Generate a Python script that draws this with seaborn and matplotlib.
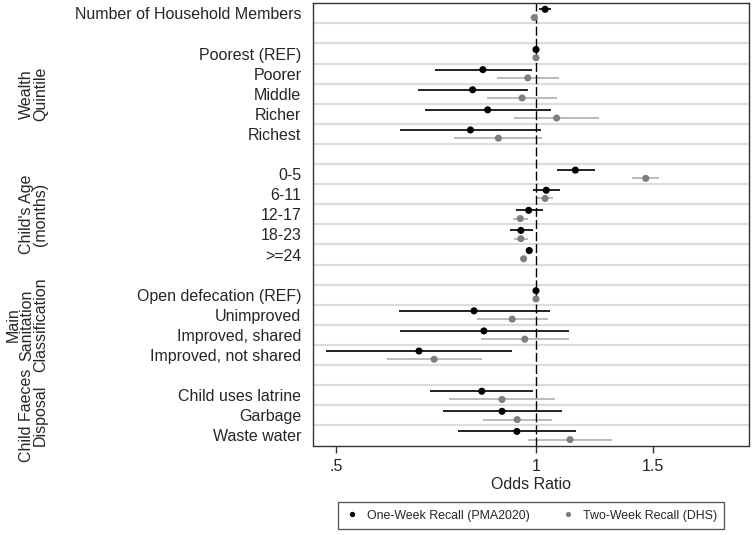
import numpy as np
import pandas as pd
import matplotlib
matplotlib.use("Agg")
import matplotlib.pyplot as plt
import seaborn as sns
from matplotlib import transforms
from matplotlib.ticker import FixedLocator, NullLocator, FixedFormatter

nan = np.nan

# ---- data -------------------------------------------------------------
categories = ["Number of Household Members", "",
              "Poorest (REF)", "Poorer", "Middle", "Richer", "Richest", "",
              "0-5", "6-11", "12-17", "18-23", ">=24", "",
              "Open defecation (REF)", "Unimproved", "Improved, shared",
              "Improved, not shared", "",
              "Child uses latrine", "Garbage", "Waste water"]

pma_or = [1.032, nan, 1.000, 0.832, 0.803, 0.846, 0.797, nan,
          1.146, 1.036, 0.975, 0.949, 0.977, nan,
          1.000, 0.807, 0.835, 0.667, nan, 0.829, 0.889, 0.936]
pma_lo = [1.011, nan, 1.000, 0.705, 0.665, 0.680, 0.625, nan,
          1.074, 0.989, 0.932, 0.913, 0.972, nan,
          1.000, 0.622, 0.624, 0.484, nan, 0.693, 0.724, 0.764]
pma_hi = [1.052, nan, 1.000, 0.985, 0.974, 1.052, 1.016, nan,
          1.227, 1.085, 1.023, 0.989, 0.983, nan,
          1.000, 1.051, 1.121, 0.919, nan, 0.990, 1.095, 1.148]

dhs_or = [0.994, nan, 1.000, 0.972, 0.953, 1.074, 0.878, nan,
          1.462, 1.032, 0.947, 0.949, 0.958, nan,
          1.000, 0.921, 0.962, 0.703, nan, 0.889, 0.937, 1.125]
dhs_lo = [0.989, nan, 1.000, 0.875, 0.843, 0.928, 0.754, nan,
          1.396, 1.005, 0.924, 0.928, 0.953, nan,
          1.000, 0.815, 0.827, 0.597, nan, 0.741, 0.832, 0.972]
dhs_hi = [0.999, nan, 1.000, 1.082, 1.077, 1.245, 1.022, nan,
          1.530, 1.059, 0.974, 0.974, 0.963, nan,
          1.000, 1.044, 1.120, 0.831, nan, 1.069, 1.057, 1.299]

series_names = ["One-Week Recall (PMA2020)", "Two-Week Recall (DHS)"]

group_titles = ["Wealth\nQuintile", "Child's Age\n(months)",
                "Main\nSanitation\nClassification", "Child Faeces\nDisposal"]
group_first = ["Poorest (REF)", "0-5", "Open defecation (REF)", "Child uses latrine"]
group_last = ["Richest", ">=24", "Improved, not shared", "Waste water"]

x_ticks = [0.5, 1.0, 1.5]
x_ticklabels = [".5", "1", "1.5"]

# ---- build table ---------------------------------------------------------
offsets = {series_names[0]: -0.2, series_names[1]: 0.21}
rows = []
for s, orv, lo, hi in [(series_names[0], pma_or, pma_lo, pma_hi),
                       (series_names[1], dhs_or, dhs_lo, dhs_hi)]:
    for i, c in enumerate(categories):
        rows.append(dict(category=c, row=i, Series=s, OR=orv[i], lo=lo[i], hi=hi[i],
                         ypos=i + offsets[s]))
df = pd.DataFrame(rows).dropna(subset=["OR"])

# ---- style ---------------------------------------------------------------
sns.set_style("white")
plt.rcParams["font.family"] = ["Liberation Sans", "DejaVu Sans"]

W, H = 752, 535
fig = plt.figure(figsize=(W / 100, H / 100), dpi=100)
L, R, T, B = 313.3, 749.0, 3.3, 445.5
ax = fig.add_axes([L / W, 1 - B / H, (R - L) / W, (B - T) / H])

black = "#000000"
gray = "#7f7f7f"
ci_colors = {series_names[0]: "#111111", series_names[1]: "#a8a8a8"}

ax.set_xscale("log")

for s in series_names:
    d = df[df.Series == s]
    ax.hlines(d.ypos, d.lo, d.hi, colors=ci_colors[s],
              linewidth=1.3 if s == series_names[0] else 1.1, zorder=2)

sns.scatterplot(data=df, x="OR", y="ypos", hue="Series", hue_order=series_names,
                palette=[black, gray], s=26, linewidth=0, edgecolor="none",
                ax=ax, zorder=3)

ax.axvline(1.0, color="black", linewidth=1.0, linestyle=(0, (6.5, 2.2)), zorder=2.5)

n = len(categories)
ax.set_ylim(n - 0.5, -0.5)
ax.set_xlim(0.4627, 2.09)

ax.yaxis.set_major_locator(FixedLocator(list(range(n))))
ax.yaxis.set_major_formatter(FixedFormatter(categories))
ax.yaxis.set_minor_locator(FixedLocator([i + 0.5 for i in range(n - 1)]))
ax.grid(which="minor", axis="y", color="#dcdcdc", linewidth=1.6, zorder=0)
ax.grid(which="major", axis="both", visible=False)
ax.set_axisbelow(True)

ax.xaxis.set_major_locator(FixedLocator(x_ticks))
ax.xaxis.set_major_formatter(FixedFormatter(x_ticklabels))
ax.xaxis.set_minor_locator(NullLocator())

ax.tick_params(axis="y", which="both", length=0, pad=8.5, labelsize=11.5)
ax.tick_params(axis="x", which="major", length=5, width=1, color="#333333",
               direction="out", bottom=True, pad=5, labelsize=11.5)

ax.set_ylabel("")
ax.set_xlabel("Odds Ratio", fontsize=11.5, labelpad=2)

for sp in ax.spines.values():
    sp.set_visible(True)
    sp.set_color("#333333")
    sp.set_linewidth(1.0)

# group labels
trans = transforms.blended_transform_factory(fig.transFigure, ax.transData)
for title, a, b in zip(group_titles, group_first, group_last):
    ia = categories.index(a)
    ib = categories.index(b)
    fig.text(48 / W, (ia + ib) / 2, title, rotation=90, transform=trans,
             ha="right", va="center", multialignment="center",
             fontsize=11.5, linespacing=0.9)

# legend
sns.move_legend(ax, "upper center", bbox_to_anchor=(0.5, -0.128), ncol=2,
                title=None, frameon=True, fontsize=8.9, markerscale=0.75,
                handletextpad=0.7, columnspacing=2.6, borderpad=0.6,
                borderaxespad=0, handlelength=1.0, fancybox=False)
leg = ax.get_legend()
leg.get_frame().set_edgecolor("#333333")
leg.get_frame().set_linewidth(1.0)

fig.savefig("out.png", dpi=100)
